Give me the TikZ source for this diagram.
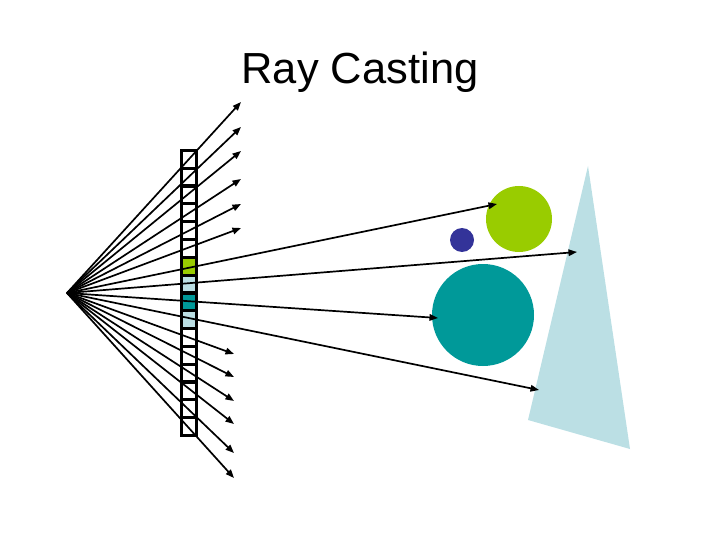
\documentclass[tikz,border=0pt]{standalone}
\usepackage{fontspec}
\setmainfont{Liberation Sans}
\usetikzlibrary{arrows.meta}
\definecolor{cgreen}{HTML}{99CC00}
\definecolor{cteal}{HTML}{009999}
\definecolor{clight}{HTML}{BBDFE4}
\definecolor{cblue}{HTML}{333399}
\tikzset{
  cell/.style={draw=black, line width=3.2pt, minimum width=15pt, minimum height=17.8pt, inner sep=0pt, outer sep=0pt},
  ray/.style={draw=black, line width=1.7pt, -{Triangle[length=8.5pt,width=6.5pt]}},
  ball/.style={circle, inner sep=0pt, outer sep=0pt, draw=none}
}
\begin{document}
\begin{tikzpicture}[x=1pt,y=-1pt]
\useasboundingbox (0,0) rectangle (720,540);
\node[anchor=base, font=\fontsize{43.5}{50}\selectfont] (title) at (360,84) {Ray Casting};
% scene objects
\fill[clight] (588,166) -- (630,449) -- (528,420) -- cycle;
\node[ball, fill=cgreen, minimum size=66pt] (g) at (519,219) {};
\node[ball, fill=cblue, minimum size=24pt] (b) at (462,240) {};
\node[ball, fill=cteal, minimum size=102pt] (t) at (483,315) {};
% pixel column
\foreach \k/\c in {0/white,1/white,2/white,3/white,4/white,5/white,6/cgreen,7/clight,8/cteal,9/clight,10/white,11/white,12/white,13/white,14/white,15/white}{
  \node[cell, fill=\c] (c\k) at (189,{159.4+17.8*\k}) {};
}
% eye point
\coordinate (O) at (67,293);
% ray ends
\coordinate (e0) at (241,102);
\coordinate (e1) at (241,127);
\coordinate (e2) at (241,151);
\coordinate (e3) at (241,179);
\coordinate (e4) at (241,204);
\coordinate (e5) at (241,228);
\coordinate (e6) at (497,204);
\coordinate (e7) at (577,252);
\coordinate (e8) at (438,318);
\coordinate (e9) at (539,390);
\coordinate (e10) at (234,354);
\coordinate (e11) at (234,377);
\coordinate (e12) at (234,401);
\coordinate (e13) at (234,424);
\coordinate (e14) at (234,453);
\coordinate (e15) at (234,478);
\foreach \k in {0,...,15}{
  \draw[ray] (O) -- (e\k);
}
\end{tikzpicture}
\end{document}
